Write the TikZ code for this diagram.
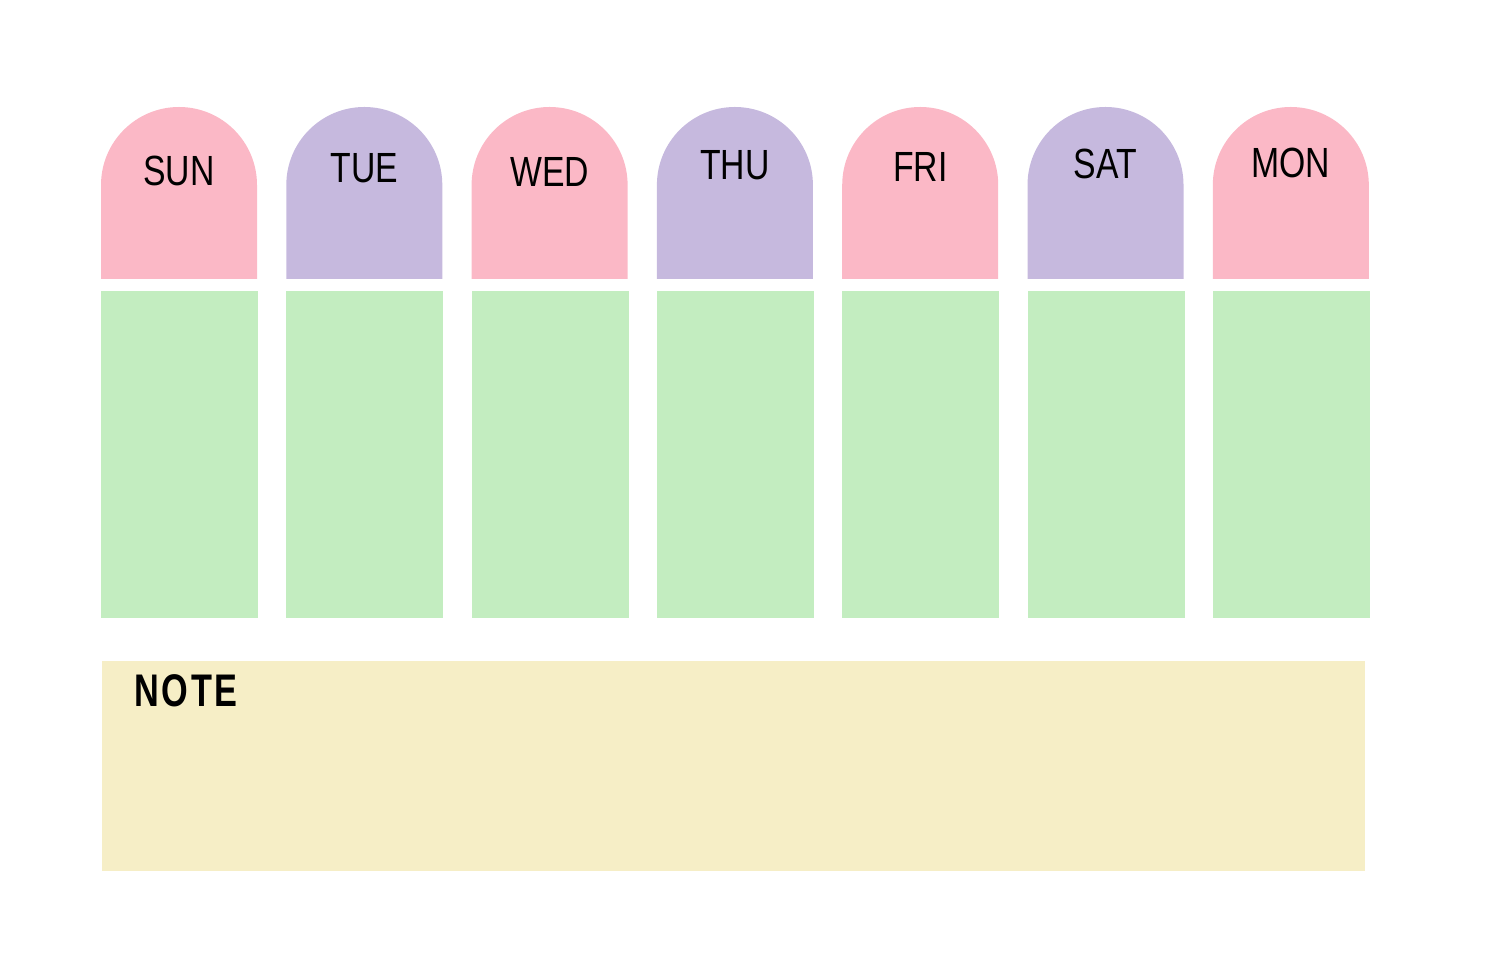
\documentclass[tikz,border=0pt]{standalone}
\usepackage{fontspec}
\setmainfont{Liberation Sans}
\definecolor{daypink}{HTML}{FBB8C6}
\definecolor{daypurple}{HTML}{C6B9DE}
\definecolor{daygreen}{HTML}{C3EDC0}
\definecolor{noteyellow}{HTML}{F6EEC6}
\tikzset{
  daylabel/.style={font=\fontsize{12}{12}\selectfont, inner sep=0pt, xscale=0.8},
}
\begin{document}
\begin{tikzpicture}[x=0.01cm, y=-0.01cm]
\useasboundingbox (0,0) rectangle (1486,980);

\foreach \i/\day/\col/\yl in {0/SUN/daypink/171,1/TUE/daypurple/168,2/WED/daypink/172,3/THU/daypurple/165,4/FRI/daypink/167,5/SAT/daypurple/164,6/MON/daypink/163}
{
    \pgfmathsetmacro{\xl}{101+185.3*\i}
    % header cap
    \fill[\col] (\xl,279) -- (\xl,185) arc (180:0:78 and -78) -- (\xl+156,279) -- cycle;
    \node[daylabel] (day\i) at (\xl+78,\yl) {\day};
    % day box
    \fill[daygreen] (\xl,291) rectangle (\xl+157,618);
}

% notes
\fill[noteyellow] (102,661) rectangle (1365,871);
\node[anchor=west, font=\fontsize{13}{13}\selectfont\bfseries, inner sep=0pt, xscale=0.75] (note) at (134,691) {N\kern1pt O\kern1pt T\kern1pt E};
\end{tikzpicture}
\end{document}
